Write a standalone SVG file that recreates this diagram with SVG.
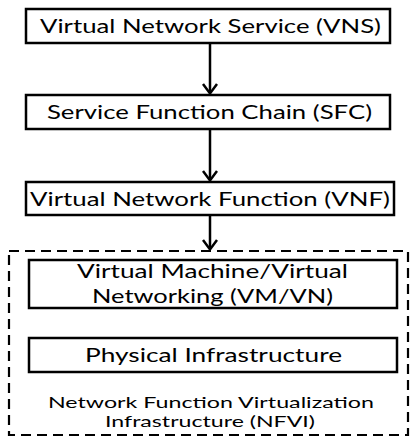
<svg xmlns="http://www.w3.org/2000/svg" width="412" height="438" viewBox="0 0 412 438">
  <style>
    .box { fill: #fff; stroke: #000; stroke-width: 2.5; }
    .frame { fill: none; stroke: #000; stroke-width: 2.2; stroke-dasharray: 10 6; }
    .lbl { font-family: Lato, "Open Sans", "Liberation Sans", sans-serif; font-size: 18.5px; fill: #000; text-anchor: middle; }
    .small { font-size: 16px; }
    .link { stroke: #000; stroke-width: 2.5; fill: none; }
    .head { stroke: #000; stroke-width: 2.5; fill: none; stroke-linejoin: miter; }
  </style>

  <!-- NFVI container -->
  <g id="nfvi">
    <rect class="frame" x="9" y="251" width="399" height="184"/>
    <text class="lbl small" x="211" y="408" textLength="326" lengthAdjust="spacingAndGlyphs">Network Function Virtualization</text>
    <text class="lbl small" x="210" y="426.5" textLength="210" lengthAdjust="spacingAndGlyphs">Infrastructure (NFVI)</text>
  </g>

  <g id="vns">
    <rect class="box" x="26" y="9" width="364" height="34"/>
    <text class="lbl" x="210.5" y="33" textLength="341" lengthAdjust="spacingAndGlyphs">Virtual Network Service (VNS)</text>
  </g>

  <g id="sfc">
    <rect class="box" x="26" y="95" width="364" height="34"/>
    <text class="lbl" x="209.5" y="119" textLength="325" lengthAdjust="spacingAndGlyphs">Service Function Chain (SFC)</text>
  </g>

  <g id="vnf">
    <rect class="box" x="26" y="182" width="368" height="33"/>
    <text class="lbl" x="210" y="206" textLength="360" lengthAdjust="spacingAndGlyphs">Virtual Network Function (VNF)</text>
  </g>

  <g id="vmvn">
    <rect class="box" x="29" y="260" width="368" height="48"/>
    <text class="lbl" x="212.5" y="278" textLength="271" lengthAdjust="spacingAndGlyphs">Virtual Machine/Virtual</text>
    <text class="lbl" x="212.5" y="303" textLength="241" lengthAdjust="spacingAndGlyphs">Networking (VM/VN)</text>
  </g>

  <g id="physical">
    <rect class="box" x="29" y="338" width="368" height="34"/>
    <text class="lbl" x="213.5" y="362" textLength="257" lengthAdjust="spacingAndGlyphs">Physical Infrastructure</text>
  </g>

  <!-- connectors: shaft plus open V head -->
  <g id="connectors">
    <line class="link" x1="210" y1="43" x2="210" y2="93"/>
    <polyline class="head" points="203,84 210,93.5 217,84"/>
    <line class="link" x1="210" y1="129" x2="210" y2="180"/>
    <polyline class="head" points="203,171 210,180.5 217,171"/>
    <line class="link" x1="210" y1="215" x2="210" y2="249"/>
    <polyline class="head" points="203,240 210,249.5 217,240"/>
  </g>
</svg>
